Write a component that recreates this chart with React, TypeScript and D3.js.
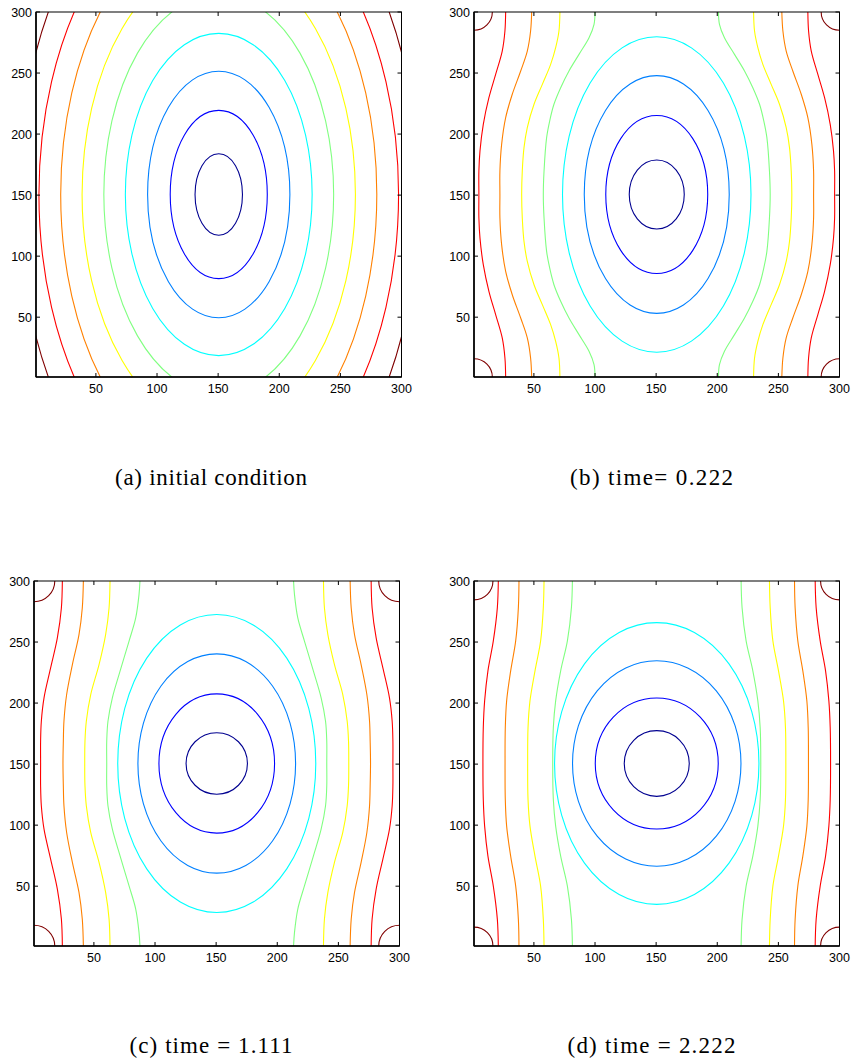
import React from 'react';
import * as d3 from 'd3';

// jet colours for the 9 contour levels (low -> high)
const levelColors = ['#000090', '#0000ff', '#0080ff', '#00ffff', '#80ff80', '#ffff00', '#ff8000', '#ff0000', '#800000'];
const xTicks = [50, 100, 150, 200, 250, 300];
const yTicks = [50, 100, 150, 200, 250, 300];
const captions = ['(a) initial condition', '(b) time= 0.222', '(c) time = 1.111', '(d) time = 2.222'];
const captionWidths = [192, 163, 163, 168];

// (a) initial condition: all 9 levels are ellipses (semi-axes in data units)
const aRx = [19.4, 39.7, 58.2, 76.4, 94.0, 111.8, 129.3, 147.1, 164.0];
const aRy = [33.4, 68.9, 101.0, 132.0, 163.8, 192.4, 225.9, 251.2, 283.7];

// closed contours (levels 1-4) for (b), (c), (d)
const bRx = [22.5, 41.7, 59.3, 77.1];
const bRy = [28.3, 64.7, 97.4, 129.2];
const cRx = [25.1, 47.3, 64.5, 81.0];
const cRy = [25.2, 57.0, 89.8, 122.1];
const dRx = [26.6, 50.3, 68.9, 83.6];
const dRy = [26.9, 53.6, 84.2, 115.4];

// open contours (levels 5-8): profile [dy from centre, dx from centre]
const bGreen = [[150, 50.5], [139.4, 51.3], [128.4, 55.4], [114.8, 63.6], [101.2, 71.8], [87.5, 78.6], [73.9, 84.1], [60.2, 87.6], [46.6, 90.1], [19.3, 92.2], [0, 92.8]];
const bYellow = [[150, 79.2], [133.9, 80], [120.3, 82.7], [106.6, 86.8], [90.2, 93.6], [73.9, 100.4], [54.8, 105.9], [38.4, 108.6], [19.3, 110], [0, 110.5]];
const bOrange = [[150, 102.3], [133.9, 103.2], [117.5, 105.9], [101.2, 111.3], [82.1, 118.2], [63, 123.6], [41.1, 126.9], [19.3, 128.3], [0, 128.3]];
const bRed = [[150, 123.6], [133.9, 124.2], [117.5, 126.4], [98.4, 131.8], [79.3, 137.3], [57.5, 141.9], [35.7, 144.6], [19.3, 145.5], [0, 145.5]];

const cGreen = [[150, 62.8], [138.3, 63.6], [119.2, 66.3], [100.1, 71.8], [75.6, 79.1], [53.8, 85.4], [34.6, 89], [18.3, 90], [0, 90]];
const cYellow = [[150, 87.3], [127.4, 88.1], [105.6, 90.9], [81, 96.3], [56.5, 103.1], [34.6, 106.7], [18.3, 107.8], [0, 108]];
const cOrange = [[150, 109.1], [127.4, 110], [105.6, 112.7], [81, 118.1], [56.5, 122.8], [34.6, 125], [18.3, 125.5], [0, 125.8]];
const cRed = [[150, 126.3], [127.4, 127.1], [102.9, 130.4], [78.3, 135.9], [53.8, 141.3], [34.6, 143.5], [18.3, 144.1], [0, 144.1]];

const dGreen = [[150, 69], [127.7, 69.8], [100.4, 73.1], [75.9, 78.6], [51.3, 82.7], [29.5, 84.6], [0, 85.1]];
const dYellow = [[150, 92.2], [127.7, 92.8], [100.4, 95], [75.9, 99.6], [51.3, 103.7], [29.5, 105.3], [0, 105.6]];
const dOrange = [[150, 112.7], [127.7, 113.2], [100.4, 115.4], [75.9, 119.5], [51.3, 122.8], [29.5, 123.9], [0, 124.1]];
const dRed = [[150, 129.6], [127.7, 130.4], [100.4, 133.7], [75.9, 138.1], [51.3, 140.8], [29.5, 141.9], [0, 142.2]];

// corner arcs (level 9) radius, data units
const cornerR = [0, 15, 17, 15.5];

const panelsData = [
  { rx: aRx, ry: aRy, open: [] as number[][][] },
  { rx: bRx, ry: bRy, open: [bGreen, bYellow, bOrange, bRed] },
  { rx: cRx, ry: cRy, open: [cGreen, cYellow, cOrange, cRed] },
  { rx: dRx, ry: dRy, open: [dGreen, dYellow, dOrange, dRed] },
];

const layout = [
  { left: 36, top: 12, capX: 211, capY: 485 },
  { left: 474, top: 12, capX: 651.5, capY: 485 },
  { left: 34, top: 581, capX: 211, capY: 1053 },
  { left: 474, top: 581, capX: 651.5, capY: 1053 },
];
const PW = 365.5;
const PH = 365;
const CX = 150.5;
const CY = 150.5;

function Panel({ idx }: { idx: number }) {
  const { left, top, capX, capY } = layout[idx];
  const data = panelsData[idx];
  const x = d3.scaleLinear().domain([1, 300]).range([left, left + PW]);
  const y = d3.scaleLinear().domain([1, 300]).range([top + PH, top]);
  const clipId = `clip${idx}`;
  const line = d3.line<number[]>().x(d => x(d[0])).y(d => y(d[1])).curve(d3.curveCatmullRom.alpha(0.5));

  const openPaths: { d: string; color: string }[] = [];
  data.open.forEach((prof, k) => {
    const color = levelColors[4 + k];
    [-1, 1].forEach(side => {
      const pts: number[][] = [];
      prof.forEach(([dy, dx]) => pts.push([CX + side * dx, CY + dy]));
      prof.slice(0, -1).reverse().forEach(([dy, dx]) => pts.push([CX + side * dx, CY - dy]));
      openPaths.push({ d: line(pts) || '', color });
    });
  });

  const tickLen = 4;
  const x0 = x(1), x1 = x(300), y0 = y(1), y1 = y(300);
  return (
    <g>
      <defs>
        <clipPath id={clipId}>
          <rect x={x0} y={y1} width={x1 - x0} height={y0 - y1} />
        </clipPath>
      </defs>
      <g clipPath={`url(#${clipId})`} fill="none" strokeWidth={1.1}>
        {data.rx.map((r, i) => (
          <ellipse key={'e' + i} cx={x(CX)} cy={y(CY)} rx={x(CX + r) - x(CX)} ry={y(CY) - y(CY + data.ry[i])} stroke={levelColors[i]} />
        ))}
        {openPaths.map((p, i) => (
          <path key={'o' + i} d={p.d} stroke={p.color} />
        ))}
        {cornerR[idx] > 0 && [[1, 1], [1, 300], [300, 1], [300, 300]].map((c, i) => (
          <ellipse key={'c' + i} cx={x(c[0])} cy={y(c[1])} rx={x(1 + cornerR[idx]) - x(1)} ry={y(1) - y(1 + cornerR[idx])} stroke={levelColors[8]} />
        ))}
      </g>
      <rect x={x0} y={y1} width={x1 - x0} height={y0 - y1} fill="none" stroke="#000" strokeWidth={1} />
      <line x1={x0} x2={x0} y1={y1} y2={y0} stroke="#000" strokeWidth={1.6} />
      <line x1={x0} x2={x1} y1={y0} y2={y0} stroke="#000" strokeWidth={1.6} />
      {xTicks.map(t => (
        <g key={'xt' + t}>
          <line x1={x(t)} x2={x(t)} y1={y0} y2={y0 - tickLen} stroke="#000" />
          <line x1={x(t)} x2={x(t)} y1={y1} y2={y1 + tickLen} stroke="#000" />
          <text x={x(t)} y={y0 + 15.5} textAnchor="middle" fontSize={12.5} fontFamily="'Liberation Sans', Arial, sans-serif" fill="#000">{t}</text>
        </g>
      ))}
      {yTicks.map(t => (
        <g key={'yt' + t}>
          <line x1={x0} x2={x0 + tickLen} y1={y(t)} y2={y(t)} stroke="#000" />
          <line x1={x1} x2={x1 - tickLen} y1={y(t)} y2={y(t)} stroke="#000" />
          <text x={x0 - 4} y={y(t) + 4.5} textAnchor="end" fontSize={12.5} fontFamily="'Liberation Sans', Arial, sans-serif" fill="#000">{t}</text>
        </g>
      ))}
      <text x={capX} y={capY} textAnchor="middle" fontSize={23} fontFamily="'Liberation Serif', 'Times New Roman', serif" fill="#000"
        textLength={captionWidths[idx]} lengthAdjust="spacing">{captions[idx]}</text>
    </g>
  );
}

export default function App() {
  return (
    <svg width={851} height={1064} style={{ position: 'absolute', left: 0, top: 0, background: '#fff' }}>
      <rect x={0} y={0} width={851} height={1064} fill="#fff" />
      {[0, 1, 2, 3].map(i => <Panel key={i} idx={i} />)}
    </svg>
  );
}
